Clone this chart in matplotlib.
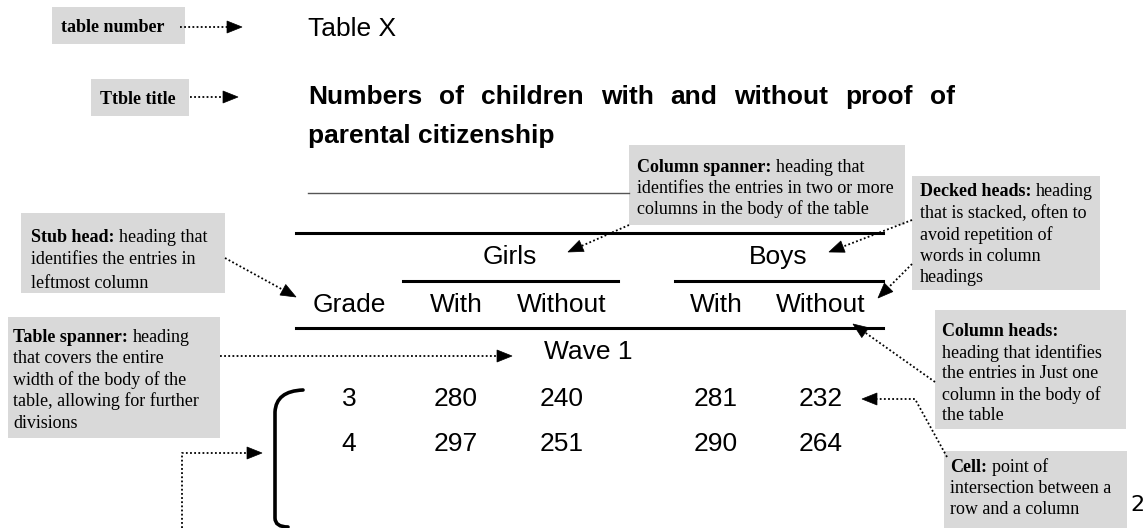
import matplotlib
matplotlib.use("Agg")
import matplotlib.pyplot as plt
from matplotlib.patches import Rectangle, Polygon, PathPatch
from matplotlib.path import Path

# table content
grades = ["3", "4"]
girls_with = [280, 297]
girls_without = [240, 251]
boys_with = [281, 290]
boys_without = [232, 264]
col_heads = ["Grade", "With", "Without", "With", "Without"]
spanners = ["Girls", "Boys"]
table_spanner = "Wave 1"
table_number = "Table X"
title_line1 = "Numbers of children with and without proof of"
title_line2 = "parental citizenship"

# annotation boxes: bold head, rest of first line, following lines
notes = {
    "number": ("table number", "", []),
    "title": ("Ttble title", "", []),
    "colspan": ("Column spanner:", "heading that",
                ["identifies the entries in two or more",
                 "columns in the body of the table"]),
    "decked": ("Decked heads:", "heading",
               ["that is stacked, often to", "avoid repetition of",
                "words in column", "headings"]),
    "stub": ("Stub head:", "heading that",
             ["identifies the entries in", "leftmost column"]),
    "tspan": ("Table spanner:", "heading",
              ["that covers the entire", "width of the body of the",
               "table, allowing for further", "divisions"]),
    "colheads": ("Column heads:", "",
                 ["heading that identifies", "the entries in Just one",
                  "column in the body of", "the table"]),
    "cell": ("Cell:", "point of",
             ["intersection between a", "row and a column"]),
}

SANS = "Liberation Sans"
SERIF = "Liberation Serif"
GREY = "#d9d9d9"

fig = plt.figure(figsize=(11.48, 5.28), dpi=100)
ax = fig.add_axes([0, 0, 1, 1])
ax.set_xlim(0, 1148)
ax.set_ylim(528, 0)
ax.axis("off")


def note_box(key, x0, y0, x1, y1, tx, ty, dy=21.5, size=13):
    head, rest, lines = notes[key]
    ty = ty + 2
    ax.add_patch(Rectangle((x0, y0), x1 - x0, y1 - y0, facecolor=GREY,
                           edgecolor="none", zorder=1))
    t = ax.text(tx, ty, head, fontfamily=SERIF, fontweight="bold",
                fontsize=size, va="center", ha="left", zorder=3)
    if rest:
        ax.annotate(rest, xy=(1, 0), xycoords=t, xytext=(size * 0.25, 0),
                    textcoords="offset points", fontfamily=SERIF,
                    fontsize=size, va="bottom", ha="left", zorder=3)
    for i, ln in enumerate(lines):
        ax.text(tx, ty + dy * (i + 1), ln, fontfamily=SERIF, fontsize=size,
                va="center", ha="left", zorder=3)


def dotted_arrow(xs, ys, head=True, L=15, W=12):
    xs = list(xs)
    ys = list(ys)
    if head:
        dx = xs[-1] - xs[-2]
        dy = ys[-1] - ys[-2]
        n = (dx ** 2 + dy ** 2) ** 0.5
        ux, uy = dx / n, dy / n
        tipx, tipy = xs[-1], ys[-1]
        bx, by = tipx - L * ux, tipy - L * uy
        ax.add_patch(Polygon([(tipx, tipy),
                              (bx - W / 2 * uy, by + W / 2 * ux),
                              (bx + W / 2 * uy, by - W / 2 * ux)],
                             closed=True, facecolor="black",
                             edgecolor="black", lw=0.5, zorder=4))
        xs[-1], ys[-1] = bx, by
    ax.plot(xs, ys, color="black", lw=1.3, linestyle=(0, (1, 1.3)),
            zorder=4)


# table number and title
ax.text(308, 29, table_number, fontfamily=SANS, fontsize=19, va="center")

renderer = fig.canvas.get_renderer()
words = title_line1.split()
word_texts = [ax.text(0, 97, w, fontfamily=SANS, fontweight="bold",
                      fontsize=19, va="center") for w in words]
widths = [t.get_window_extent(renderer).width for t in word_texts]
left, right = 308, 955
gap = (right - left - sum(widths)) / (len(words) - 1)
x = left
for t, w in zip(word_texts, widths):
    t.set_x(x)
    x += w + gap
ax.text(308, 136, title_line2, fontfamily=SANS, fontweight="bold",
        fontsize=19, va="center")

# rules of the table
ax.plot([308, 629], [193, 193], color="#555555", lw=1)
ax.plot([296, 883], [233, 233], color="black", lw=2.2)
ax.plot([403, 618], [281, 281], color="black", lw=2.2)
ax.plot([675, 883], [281, 281], color="black", lw=2.2)
ax.plot([296, 883], [328, 328], color="black", lw=2.2)

# headings
col_x = [349, 456, 562, 716, 821]
ax.text(510, 257, spanners[0], fontfamily=SANS, fontsize=19, ha="center", va="center")
ax.text(778, 257, spanners[1], fontfamily=SANS, fontsize=19, ha="center", va="center")
for cx, h in zip(col_x, col_heads):
    ax.text(cx, 305, h, fontfamily=SANS, fontsize=19, ha="center", va="center")
ax.text(588, 352, table_spanner, fontfamily=SANS, fontsize=19, ha="center", va="center")

# body cells
row_y = [399, 444]
for i, ry in enumerate(row_y):
    vals = [grades[i], girls_with[i], girls_without[i], boys_with[i], boys_without[i]]
    for cx, v in zip(col_x, vals):
        ax.text(cx, ry, str(v), fontfamily=SANS, fontsize=19, ha="center", va="center")

# bracket
br = Path([(303, 390), (276, 391), (275, 412), (275, 518), (275, 527), (288, 527)],
          [Path.MOVETO, Path.CURVE3, Path.CURVE3, Path.LINETO, Path.CURVE3, Path.CURVE3])
ax.add_patch(PathPatch(br, facecolor="none", edgecolor="black", lw=2.6,
                       capstyle="round"))

# annotation boxes
note_box("number", 52, 7, 185, 44, 61, 26)
note_box("title", 91, 79, 189, 116, 100, 97)
note_box("colspan", 629, 145, 905, 225, 637, 166, dy=20.5)
note_box("decked", 912, 176, 1100, 290, 920, 190)
note_box("stub", 21, 213, 225, 293, 31, 235, dy=23)
note_box("tspan", 8, 317, 220, 438, 13, 335)
note_box("colheads", 935, 310, 1126, 429, 942, 330, dy=21)
note_box("cell", 944, 451, 1127, 540, 950, 465, dy=21.5)
ax.text(1137, 505, "2", fontfamily="DejaVu Sans", fontsize=16, va="center", ha="center")

# connector arrows
dotted_arrow([180, 242], [27, 27])
dotted_arrow([190, 238], [97, 97])
dotted_arrow([225, 296], [258, 297])
dotted_arrow([629, 568], [225, 252])
dotted_arrow([912, 829], [220, 252])
dotted_arrow([912, 878], [264, 298])
dotted_arrow([220, 512], [356, 356])
dotted_arrow([935, 853], [382, 324])
dotted_arrow([947, 915, 862], [457, 399, 399])
dotted_arrow([182, 182, 262], [528, 453, 453])

fig.savefig("out.png", dpi=100)
